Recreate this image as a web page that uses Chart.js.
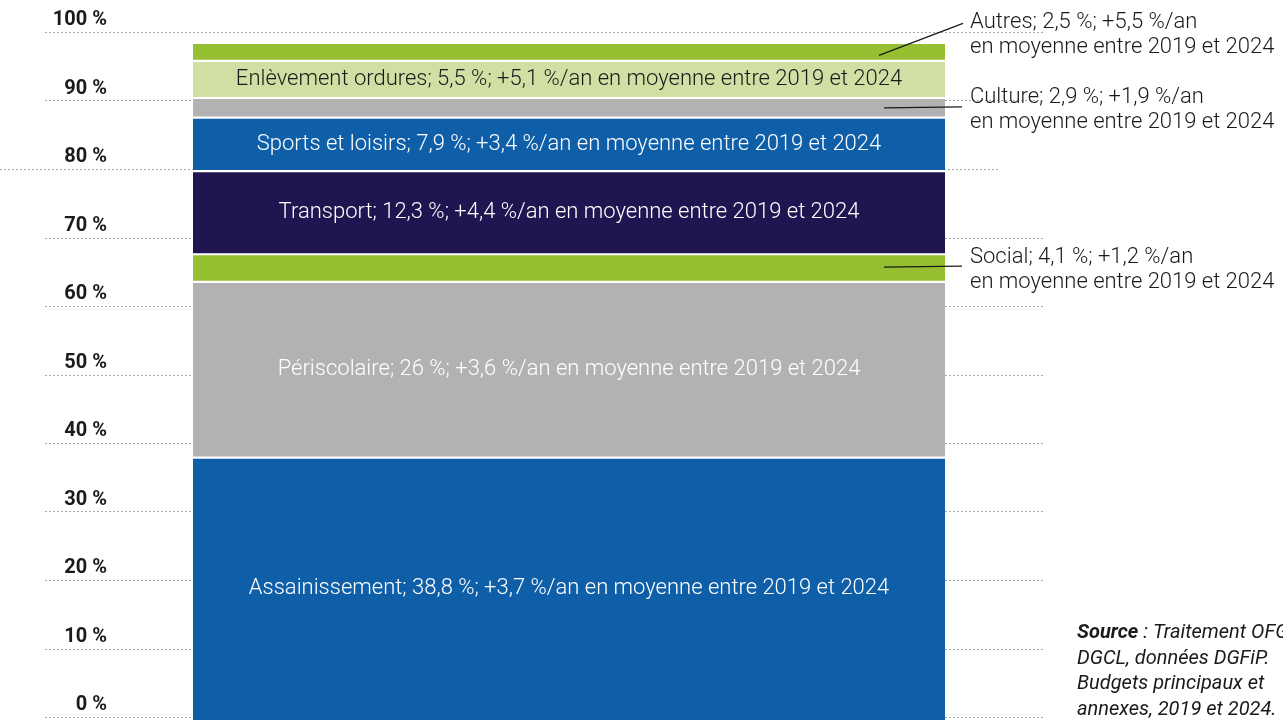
<!DOCTYPE html>
<html lang="fr">
<head>
<meta charset="utf-8">
<script src="https://cdn.jsdelivr.net/npm/chart.js@4.4.1/dist/chart.umd.min.js"></script>
<style>
  html, body { margin: 0; padding: 0; background: #ffffff; }
  canvas { display: block; }
</style>
</head>
<body>
<canvas id="chart" width="1283" height="720"></canvas>
<script>
// ---- Data ----
const categories = ['Assainissement', 'Périscolaire', 'Social', 'Transport', 'Sports et loisirs', 'Culture', 'Enlèvement ordures', 'Autres'];
const shares = [38.8, 26, 4.1, 12.3, 7.9, 2.9, 5.5, 2.5];            // part in %
const growthPerYear = [3.7, 3.6, 1.2, 4.4, 3.4, 1.9, 5.1, 5.5];      // %/an 2019-2024
const yTickValues = [0, 10, 20, 30, 40, 50, 60, 70, 80, 90, 100];
const tickSuffix = ' %';
const periodText = 'en moyenne entre 2019 et 2024';
const calloutCategories = ['Social', 'Culture', 'Autres'];
const sourceLines = [
  ['Source', ' : Traitement OFGL /'],
  ['', 'DGCL, données DGFiP.'],
  ['', 'Budgets principaux et'],
  ['', 'annexes, 2019 et 2024.']
];

// ---- Style ----
const palette = {
  'Assainissement': '#0e5ea8',
  'Périscolaire': '#b2b2b2',
  'Social': '#96bf31',
  'Transport': '#201550',
  'Sports et loisirs': '#0e5ea8',
  'Culture': '#b2b2b2',
  'Enlèvement ordures': '#d0e0a4',
  'Autres': '#96bf31'
};
const insideTextColor = {
  'Assainissement': '#ffffff',
  'Périscolaire': '#ffffff',
  'Transport': '#ffffff',
  'Sports et loisirs': '#ffffff',
  'Enlèvement ordures': '#1a1a1a'
};
const FONT = "Roboto, 'Noto Sans', sans-serif";
const fmt = v => String(v).replace('.', ',');

const datasets = categories.map((c, i) => ({
  label: c,
  data: [shares[i]],
  backgroundColor: palette[c],
  borderColor: '#ffffff',
  borderWidth: i === 0 ? { top: 1.4, bottom: 0, left: 0, right: 0 }
             : (i === categories.length - 1 ? { top: 0, bottom: 1.4, left: 0, right: 0 }
             : { top: 1.4, bottom: 1.4, left: 0, right: 0 }),
  borderSkipped: false,
  yAxisID: 'yBar',
  barPercentage: 1,
  categoryPercentage: 1,
  clip: false
}));

// dotted grid lines drawn across the whole width, under the bar
const dottedGrid = {
  id: 'dottedGrid',
  beforeDatasetsDraw(chart, args, opts) {
    const ctx = chart.ctx, y = chart.scales.y;
    ctx.save();
    ctx.strokeStyle = opts.color;
    ctx.lineWidth = 1;
    ctx.setLineDash([2, 2]);
    y.ticks.forEach(t => {
      const py = Math.round(y.getPixelForValue(t.value)) + 0.5;
      const span = opts.special[t.value] || [opts.left, opts.right];
      ctx.beginPath();
      ctx.moveTo(span[0], py);
      ctx.lineTo(span[1], py);
      ctx.stroke();
    });
    ctx.restore();
  }
};

// labels inside the bar segments and callouts on the right
const segmentLabels = {
  id: 'segmentLabels',
  afterDatasetsDraw(chart, args, opts) {
    const ctx = chart.ctx;
    ctx.save();
    ctx.font = `${opts.weight} ${opts.size}px ${FONT}`;
    ctx.textBaseline = 'middle';
    categories.forEach((c, i) => {
      const el = chart.getDatasetMeta(i).data[0];
      const cy = (el.y + Math.min(el.base, chart.chartArea.bottom + 3)) / 2;
      const right = el.x + el.width / 2;
      const head = `${c}; ${fmt(shares[i])} %; +${fmt(growthPerYear[i])} %/an`;
      if (calloutCategories.includes(c)) {
        const co = opts.callouts[c];
        ctx.strokeStyle = '#1a1a1a';
        ctx.lineWidth = 1.2;
        ctx.beginPath();
        ctx.moveTo(right - co.startDx, cy + co.startDy);
        ctx.lineTo(right + co.endDx, cy + co.endDy);
        ctx.stroke();
        ctx.fillStyle = '#1a1a1a';
        ctx.textAlign = 'left';
        const ty = cy + co.textDy;
        ctx.fillText(head, right + opts.textDx, ty);
        ctx.fillText(periodText, right + opts.textDx, ty + opts.lineGap);
      } else {
        ctx.fillStyle = insideTextColor[c];
        ctx.textAlign = 'center';
        ctx.fillText(`${head} ${periodText}`, el.x, cy);
      }
    });
    ctx.restore();
  }
};

const sourceNote = {
  id: 'sourceNote',
  afterDraw(chart, args, opts) {
    const ctx = chart.ctx;
    ctx.save();
    ctx.fillStyle = '#1a1a1a';
    ctx.textBaseline = 'middle';
    ctx.textAlign = 'left';
    sourceLines.forEach((ln, k) => {
      const y = opts.y + k * opts.lineGap;
      let x = opts.x;
      if (ln[0]) {
        ctx.font = `italic bold ${opts.size}px ${FONT}`;
        ctx.fillText(ln[0], x, y);
        x += ctx.measureText(ln[0]).width;
      }
      ctx.font = `italic ${opts.size}px ${FONT}`;
      ctx.fillText(ln[1], x, y);
    });
    ctx.restore();
  }
};

new Chart(document.getElementById('chart'), {
  type: 'bar',
  data: { labels: [''], datasets },
  options: {
    responsive: false,
    animation: false,
    layout: { padding: { left: 0, right: 338, top: 32, bottom: 3 } },
    scales: {
      x: { display: false, stacked: true },
      yBar: { display: false, stacked: true, min: 0.44, max: 101.77 },
      y: {
        position: 'left',
        min: 0, max: 100,
        afterBuildTicks: s => { s.ticks = yTickValues.map(v => ({ value: v })); },
        grid: { display: false, drawTicks: false },
        border: { display: false },
        ticks: {
          padding: 86,
          color: '#1a1a1a',
          font: { family: FONT, size: 20, weight: 'bold', lineHeight: '24px' },
          callback: v => [v + tickSuffix, '']
        },
        afterFit: s => { s.width = 193; s.paddingTop = 0; s.paddingBottom = 0; }
      }
    },
    plugins: {
      legend: { display: false },
      tooltip: { enabled: false },
      dottedGrid: { color: '#a8a8a8', left: 45, right: 1045, special: { 80: [0, 1000] } },
      segmentLabels: {
        size: 22, weight: 300, textDx: 25, lineGap: 25,
        callouts: {
          'Social':  { startDx: 61, startDy: -1, endDx: 17, endDy: -2, textDy: -11 },
          'Culture': { startDx: 61, startDy: 0, endDx: 17, endDy: -1, textDy: -10 },
          'Autres':  { startDx: 66, startDy: 3, endDx: 18, endDy: -29, textDy: -30 }
        }
      },
      sourceNote: { x: 1077, y: 633, lineGap: 25.7, size: 20 }
    }
  },
  plugins: [dottedGrid, segmentLabels, sourceNote]
});
</script>
</body>
</html>
